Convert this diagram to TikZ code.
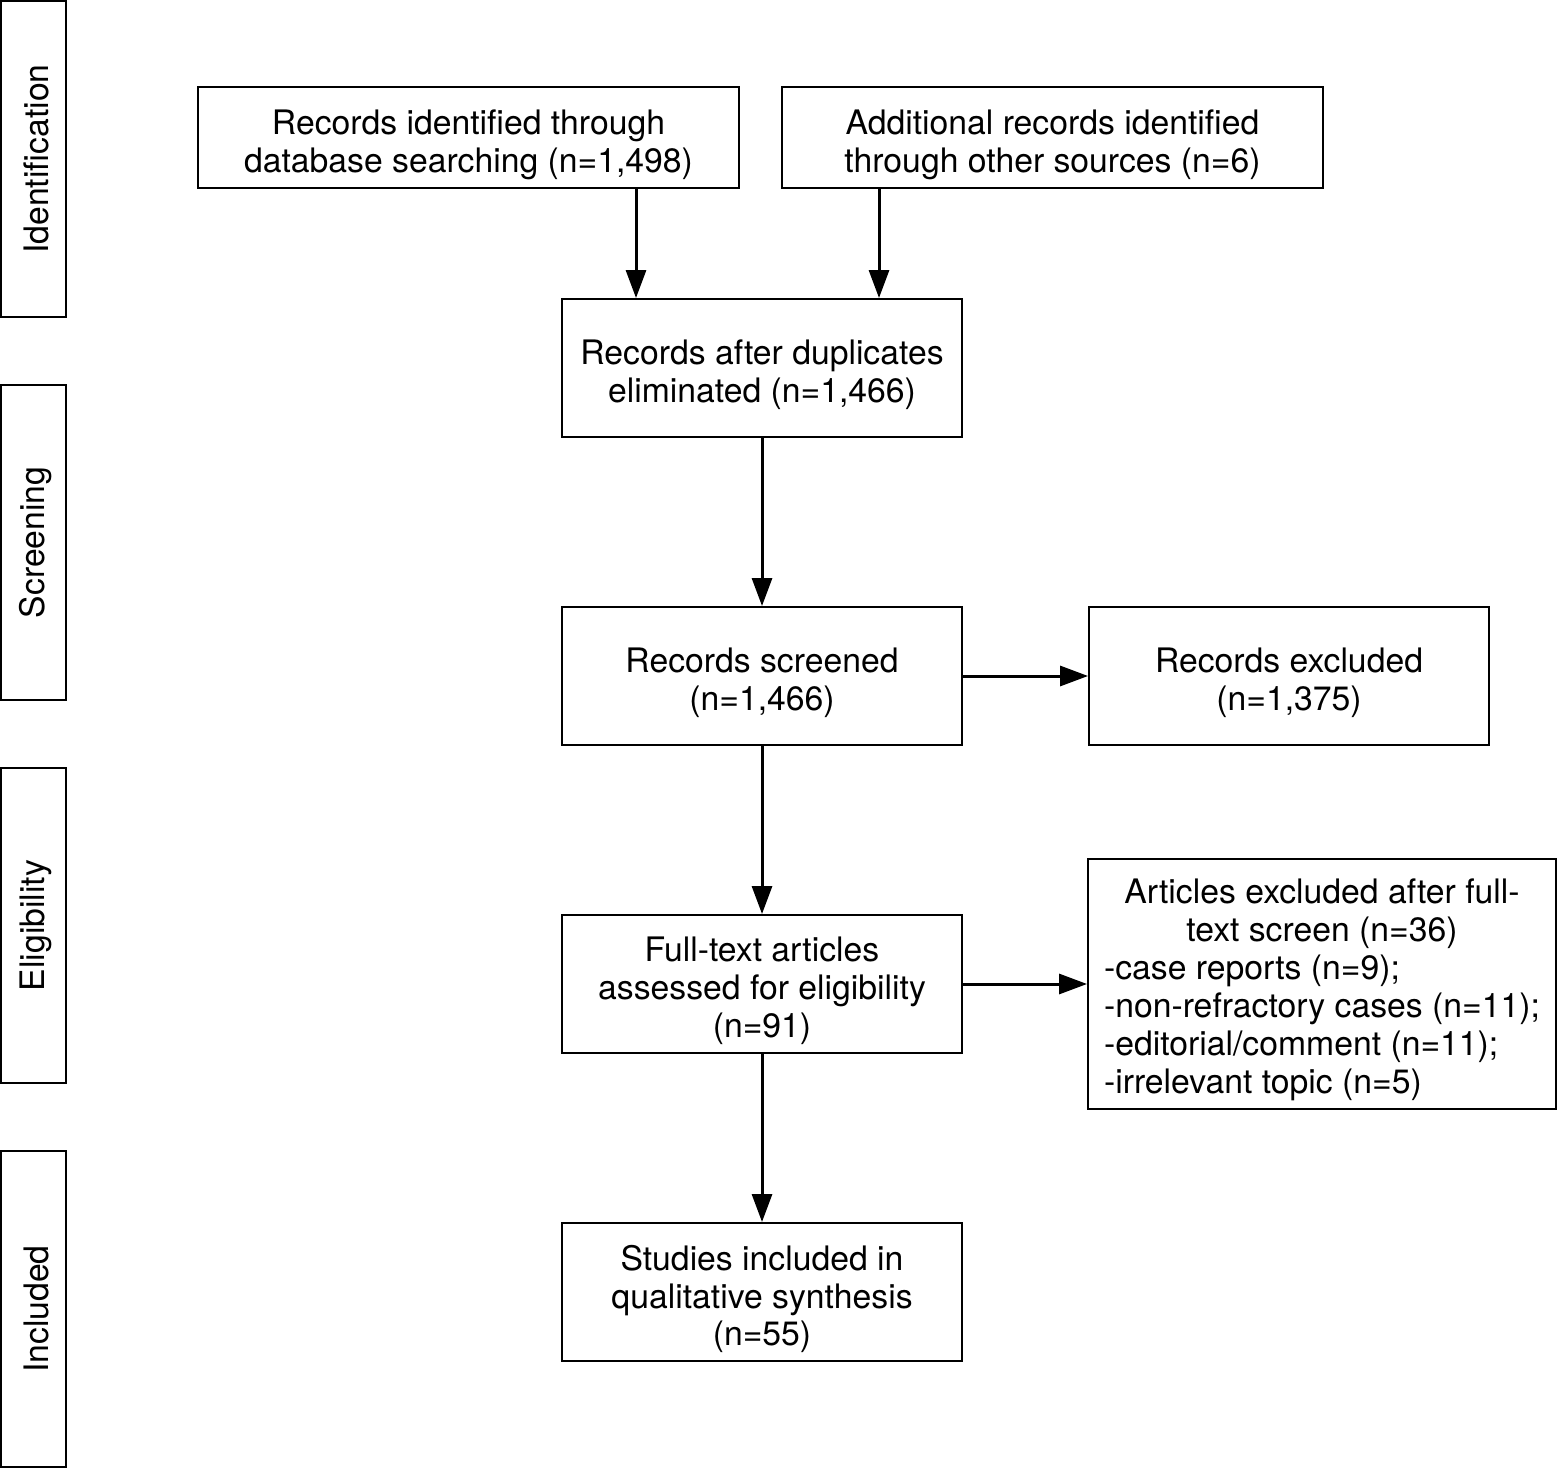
\documentclass[tikz,border=0pt]{standalone}
\usepackage{fontspec}
\setmainfont{TeX Gyre Heros}
\usetikzlibrary{arrows.meta}
\begin{document}
\begin{tikzpicture}[x=0.02cm,y=-0.02cm,
  txt/.style={font=\fontsize{19.2}{21.6}\selectfont},
  box/.style={draw, line width=0.04cm, inner sep=0pt},
  main/.style={box, minimum width=8cm, minimum height=2.76cm},
  top/.style={box, minimum width=10.82cm, minimum height=2.02cm},
  stage/.style={box, minimum width=1.3cm, minimum height=6.32cm},
  lbl/.style={txt, align=center, inner sep=0pt, yshift=-0.14cm},
  stagelbl/.style={txt, inner sep=0pt, rotate=90},
  arr/.style={line width=0.06cm, -{Triangle[length=0.56cm,width=0.4cm]}}]
\useasboundingbox (0,0) rectangle (1558,1469);
% stage labels
\node[stage] (sid) at (33.5,159) {};
\node[stage] (sscr) at (33.5,542.5) {};
\node[stage] (selig) at (33.5,925.5) {};
\node[stage] (sinc) at (33.5,1309) {};
\node[stagelbl] (sidt) at ([xshift=0.05cm]sid.center) {Identification};
\node[stagelbl] (sscrt) at ([xshift=0.05cm]sscr.center) {Screening};
\node[stagelbl] (seligt) at ([xshift=0.05cm]selig.center) {Eligibility};
\node[stagelbl] (sinct) at ([xshift=0.05cm]sinc.center) {Included};
% boxes
\node[top] (rec1) at (468.5,137.5) {};
\node[lbl] (rec1t) at (rec1) {Records identified through\\database searching (n=1,498)};
\node[top] (rec2) at (1052.5,137.5) {};
\node[lbl] (rec2t) at (rec2) {Additional records identified\\through other sources (n=6)};
\node[main] (dup) at (762,368) {};
\node[lbl] (dupt) at (dup) {Records after duplicates\\eliminated (n=1,466)};
\node[main] (scr) at (762,676) {};
\node[lbl] (scrt) at (scr) {Records screened\\(n=1,466)};
\node[main] (exc) at (1289,676) {};
\node[lbl] (exct) at (exc) {Records excluded\\(n=1,375)};
\node[main] (full) at (762,984) {};
\node[lbl] (fullt) at (full) {Full-text articles\\assessed for eligibility\\(n=91)};
\node[box, minimum width=9.36cm, minimum height=5cm] (art) at (1322,984) {};
\node[txt, inner sep=0pt, yshift=-0.14cm] (artt) at (art)
  {\begin{tabular}{@{}l@{}}
   \multicolumn{1}{@{}c@{}}{Articles excluded after full-}\\
   \multicolumn{1}{@{}c@{}}{text screen (n=36)}\\
   -case reports (n=9);\\
   -non-refractory cases (n=11);\\
   -editorial/comment (n=11);\\
   -irrelevant topic (n=5)
   \end{tabular}};
\node[main] (inc) at (762,1292) {};
\node[lbl] (inct) at (inc) {Studies included in\\qualitative synthesis\\(n=55)};
% connectors
\coordinate (a1) at (636,0);
\coordinate (a2) at (879,0);
\draw[arr] (rec1.south -| a1) -- (dup.north -| a1);
\draw[arr] (rec2.south -| a2) -- (dup.north -| a2);
\draw[arr] (dup.south) -- (scr.north);
\draw[arr] (scr.south) -- (full.north);
\draw[arr] (full.south) -- (inc.north);
\draw[arr] (scr.east) -- (exc.west);
\draw[arr] (full.east) -- (art.west);
\end{tikzpicture}
\end{document}
